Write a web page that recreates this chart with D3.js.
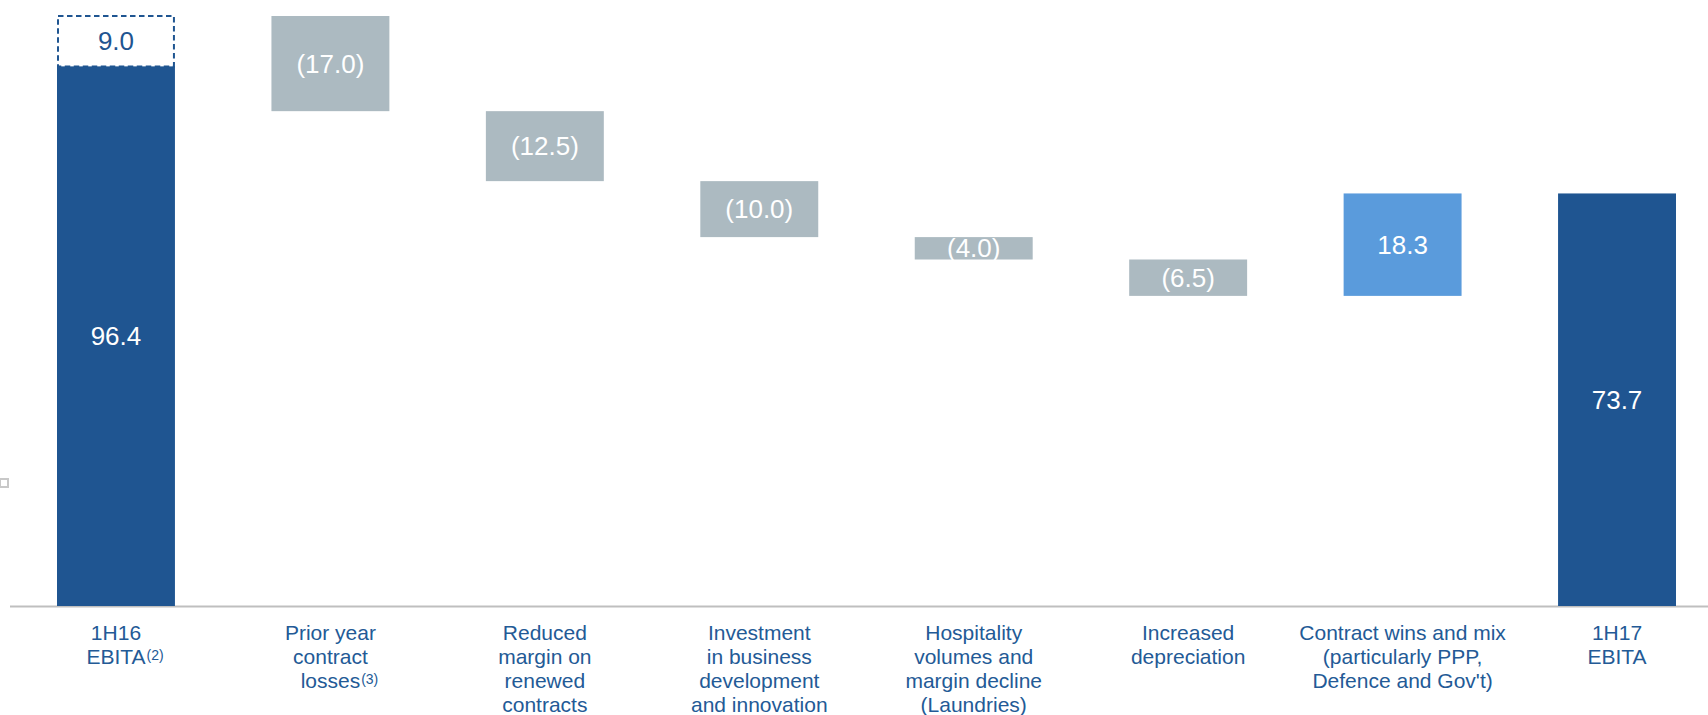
<!DOCTYPE html>
<html>
<head>
<meta charset="utf-8">
<script src="https://cdn.jsdelivr.net/npm/d3@7"></script>
<style>
  html, body { margin: 0; padding: 0; background: #ffffff; }
  svg { display: block; }
  text { font-family: Arial, "Liberation Sans", sans-serif; }
</style>
</head>
<body>
<svg id="chart" width="1708" height="715"></svg>
<script>
// ---- data ----
const categories = ["1H16 EBITA", "Prior year contract losses", "Reduced margin on renewed contracts",
  "Investment in business development and innovation", "Hospitality volumes and margin decline (Laundries)",
  "Increased depreciation", "Contract wins and mix (particularly PPP, Defence and Gov't)", "1H17 EBITA"];
const labelLines = [
  ["1H16", "EBITA"],
  ["Prior year", "contract", "losses"],
  ["Reduced", "margin on", "renewed", "contracts"],
  ["Investment", "in business", "development", "and innovation"],
  ["Hospitality", "volumes and", "margin decline", "(Laundries)"],
  ["Increased", "depreciation"],
  ["Contract wins and mix", "(particularly PPP,", "Defence and Gov't)"],
  ["1H17", "EBITA"]
];
const footnotes = ["(2)", "(3)", "", "", "", "", "", ""];
const startValue = 96.4;
const restatement = 9.0;
const changes = [-17.0, -12.5, -10.0, -4.0, -6.5, 18.3];
const endValue = 73.7;

// ---- styles ----
const darkBlue = "#1F5591";
const greyBar = "#ACBAC1";
const lightBlue = "#5A9BDC";
const textBlue = "#235A96";

const svg = d3.select("#chart");

const x = d3.scaleBand()
  .domain(categories)
  .range([57, 1676])
  .paddingInner(0.45)
  .paddingOuter(0);

const y = d3.scaleLinear()
  .domain([0, startValue + restatement])
  .range([606, 16]);

// build waterfall segments
const segs = [];
let level = startValue + restatement;
segs.push({cat: categories[0], y0: 0, y1: startValue, value: startValue, type: "total"});
changes.forEach((c, i) => {
  const from = level, to = level + c;
  segs.push({cat: categories[i + 1], y0: Math.min(from, to), y1: Math.max(from, to), value: c,
    type: c < 0 ? "neg" : "pos"});
  level = to;
});
segs.push({cat: categories[categories.length - 1], y0: 0, y1: endValue, value: endValue, type: "total"});

const fmt = v => v < 0 ? "(" + d3.format(".1f")(-v) + ")" : d3.format(".1f")(v);
const fill = t => t === "total" ? darkBlue : (t === "neg" ? greyBar : lightBlue);

// small artifact square at left edge
svg.append("rect")
  .attr("x", 0).attr("y", 479).attr("width", 8).attr("height", 8)
  .attr("fill", "#fff").attr("stroke", "#C8C8C8").attr("stroke-width", 2);

// baseline
svg.append("line")
  .attr("x1", 10).attr("x2", 1708)
  .attr("y1", y(0) + 0.5).attr("y2", y(0) + 0.5)
  .attr("stroke", "#BFBFBF").attr("stroke-width", 2);

// dashed restatement box
svg.append("rect")
  .attr("x", x(categories[0]) + 1)
  .attr("y", y(startValue + restatement))
  .attr("width", x.bandwidth() - 2)
  .attr("height", y(startValue) - y(startValue + restatement))
  .attr("fill", "none")
  .attr("stroke", darkBlue)
  .attr("stroke-width", 2)
  .attr("stroke-dasharray", "5.5,3.5");

svg.append("text")
  .attr("x", x(categories[0]) + x.bandwidth() / 2)
  .attr("y", (y(startValue) + y(startValue + restatement)) / 2)
  .attr("dy", "0.35em")
  .attr("text-anchor", "middle")
  .attr("font-size", 26)
  .attr("fill", darkBlue)
  .text(d3.format(".1f")(restatement));

// bars
svg.selectAll("rect.bar")
  .data(segs)
  .join("rect")
  .attr("class", "bar")
  .attr("x", d => x(d.cat))
  .attr("y", d => y(d.y1))
  .attr("width", x.bandwidth())
  .attr("height", d => y(d.y0) - y(d.y1))
  .attr("fill", d => fill(d.type));

// value labels
svg.selectAll("text.val")
  .data(segs)
  .join("text")
  .attr("class", "val")
  .attr("x", d => x(d.cat) + x.bandwidth() / 2)
  .attr("y", d => (y(d.y0) + y(d.y1)) / 2)
  .attr("dy", "0.35em")
  .attr("text-anchor", "middle")
  .attr("font-size", 26)
  .attr("fill", "#ffffff")
  .text(d => fmt(d.value));

// category labels
const lineH = 24.3;
const firstBase = 639.5;
categories.forEach((c, i) => {
  const cx = x(c) + x.bandwidth() / 2;
  const lines = labelLines[i];
  lines.forEach((ln, j) => {
    const t = svg.append("text")
      .attr("x", cx)
      .attr("y", firstBase + j * lineH)
      .attr("text-anchor", "middle")
      .attr("font-size", 21)
      .attr("fill", textBlue)
      .text(ln);
    if (j === lines.length - 1 && footnotes[i]) {
      const w = t.node().getComputedTextLength();
      svg.append("text")
        .attr("x", cx + w / 2 + 1)
        .attr("y", firstBase + j * lineH - 4)
        .attr("font-size", 14)
        .attr("fill", textBlue)
        .text(footnotes[i]);
    }
  });
});
</script>
</body>
</html>
